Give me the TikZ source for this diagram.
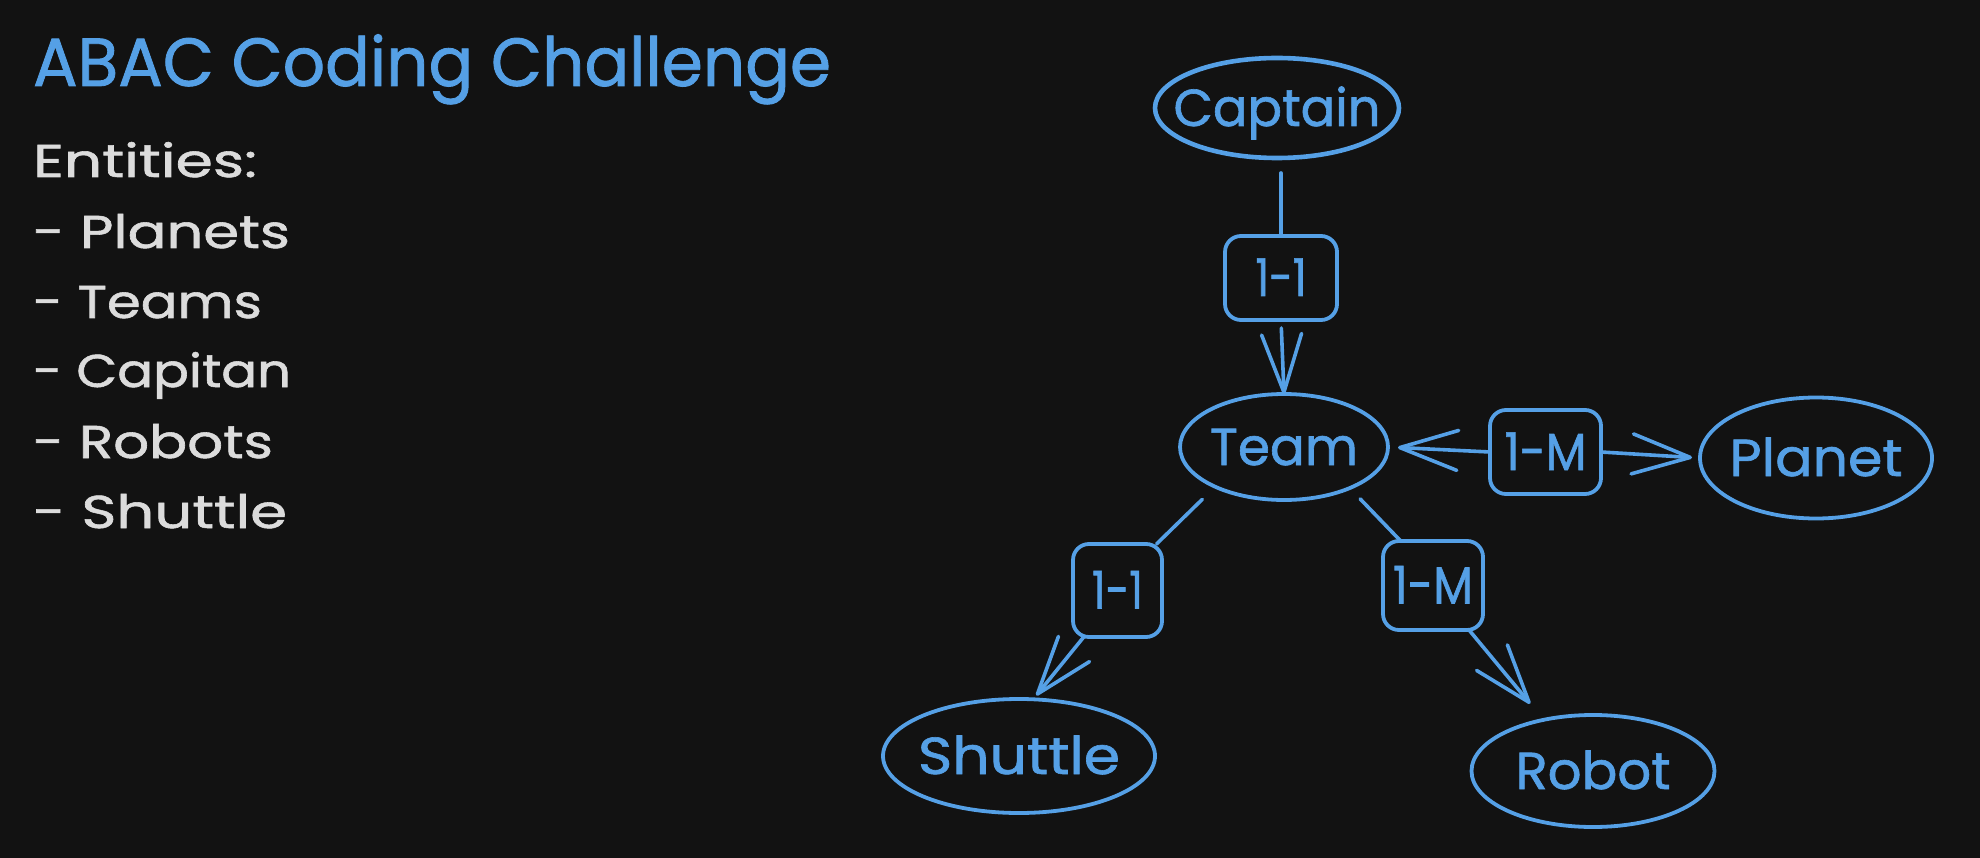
\documentclass[tikz,border=0pt]{standalone}
\usepackage{fontspec}
\usepackage{graphicx}
\setmainfont{Poppins}[FakeBold=1.2]
\usetikzlibrary{arrows.meta,shapes.geometric}
\definecolor{bg}{HTML}{121212}
\definecolor{ink}{HTML}{55A0E6}
\definecolor{txt}{HTML}{DCDCDC}
\newcommand\fw[2]{\resizebox{#1pt}{\height}{#2}}
\newcommand\zw[2]{\makebox[0pt][c]{\resizebox{#1pt}{\height}{#2}}}
\begin{document}
\begin{tikzpicture}[x=1pt,y=-1pt,
  every node/.style={inner sep=0pt, outer sep=0pt},
  ent/.style={ellipse, draw=ink, line width=3.8pt, text=ink,
    font=\fontsize{52}{52}\selectfont, text height=36pt, text depth=0pt},
  rel/.style={rectangle, rounded corners=16pt, draw=ink, line width=3.8pt, text=ink,
    font=\fontsize{52}{52}\selectfont, text height=36pt, text depth=0pt},
  conn/.style={draw=ink, line width=3.6pt, line cap=round, line join=round},
  barb/.style={-{Straight Barb[length=58pt,width=40pt,line cap=round,line join=round]}},
  ttl/.style={anchor=base west, text=ink, font=\fontsize{68}{68}\selectfont},
  lst/.style={anchor=base west, text=txt, font=\fontsize{46}{46}\selectfont}]
\useasboundingbox (0,0) rectangle (1980,858);
\fill[bg] (0,0) rectangle (1980,858);

% left texts
\node[ttl] (title) at (33,86) {\fw{798}{ABAC Coding Challenge}};
\node[lst] (l0) at (33,177) {\fw{224}{Entities:}};
\node[lst] (l1) at (33,248) {\fw{257}{- Planets}};
\node[lst] (l2) at (33,318) {\fw{229}{- Teams}};
\node[lst] (l3) at (33,387) {\fw{258}{- Capitan}};
\node[lst] (l4) at (33,458) {\fw{240}{- Robots}};
\node[lst] (l5) at (33,528) {\fw{254}{- Shuttle}};

% entities
\node[ent, line width=4.6pt, minimum width=244pt, minimum height=100pt] (captain) at (1277,108) {\zw{207}{Captain}};
\node[ent, minimum width=208pt, minimum height=106pt] (team) at (1284,447) {\zw{148}{Team}};
\node[ent, minimum width=232pt, minimum height=121pt] (planet) at (1816,458) {\zw{173}{Planet}};
\node[ent, minimum width=272pt, minimum height=114pt] (shuttle) at (1019,756) {\zw{202}{Shuttle}};
\node[ent, minimum width=243pt, minimum height=112pt] (robot) at (1593,771) {\zw{155}{Robot}};

% relation boxes
\node[rel, minimum width=112pt, minimum height=84pt] (r1) at (1281,278) {\zw{51}{1-1}};
\node[rel, minimum width=111pt, minimum height=84pt] (r2) at (1545.5,452) {\zw{82}{1-M}};
\node[rel, minimum width=89pt, minimum height=93pt] (r3) at (1117.5,590.5) {\zw{51}{1-1}};
\node[rel, minimum width=100pt, minimum height=89pt] (r4) at (1433,585.5) {\zw{80}{1-M}};

% connectors
\draw[conn] ([yshift=-15pt]captain.south -| r1.north) -- (r1.north);
\draw[conn, barb, shorten <=8pt] (r1.south) -- (team.north);
\draw[conn, barb, shorten >=10pt] (r2.west) -- (team.east);
\draw[conn, barb, shorten >=8pt] (r2.east) -- (planet.west);
\draw[conn, shorten <=18pt] (team.210) -- (r3.50);
\draw[conn, barb, shorten >=5pt] (r3.234) -- (shuttle.76);
\draw[conn, shorten <=15pt] (team.-32) -- (r4.126);
\draw[conn, barb, shorten >=21pt] (r4.-51) -- (robot.134);
\end{tikzpicture}
\end{document}
